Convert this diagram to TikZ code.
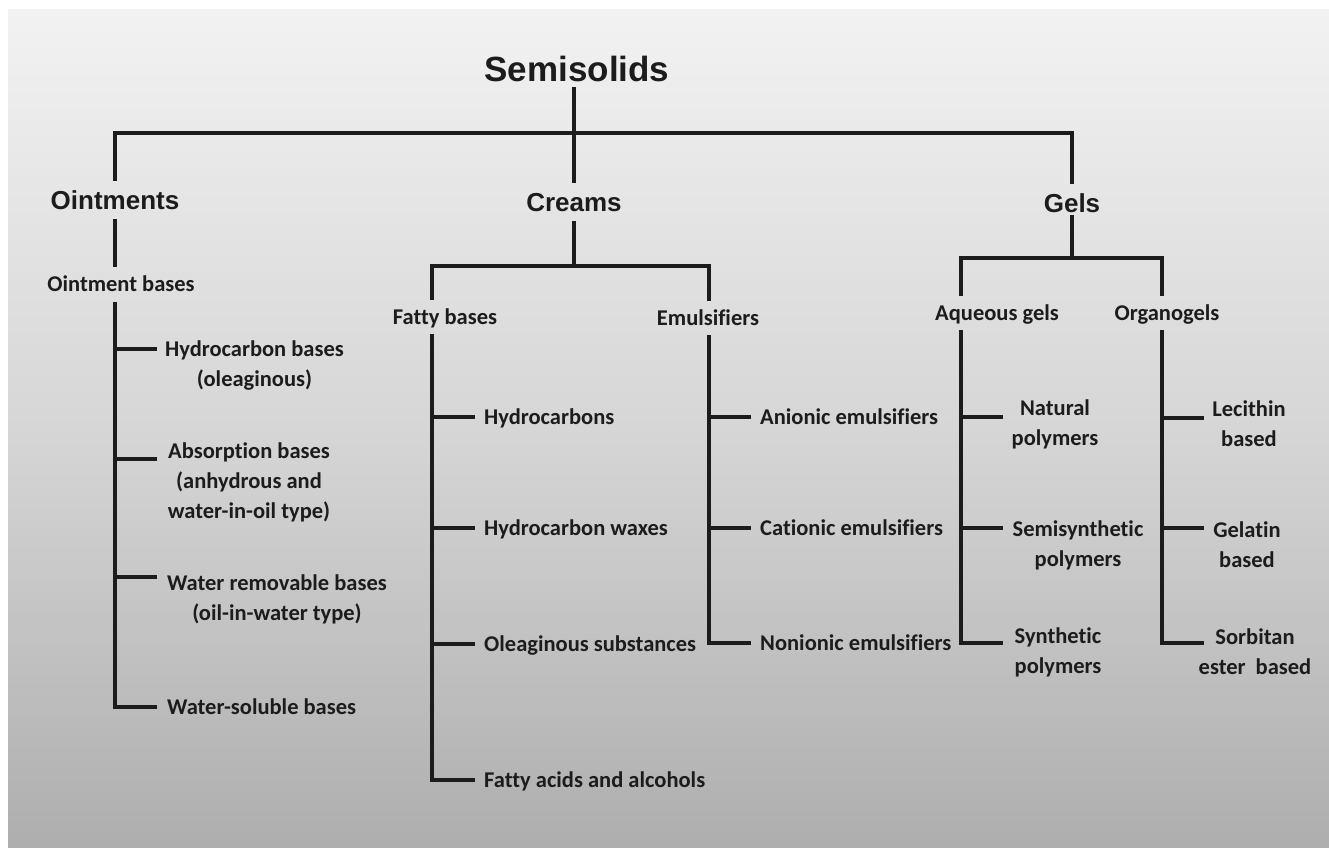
\documentclass[tikz,border=0pt]{standalone}
\usepackage{fontspec}
\setmainfont{Liberation Sans}
\newfontfamily\calfont[Ligatures=NoCommon]{Carlito}
\definecolor{ink}{HTML}{1C1C1C}
\definecolor{bgtop}{HTML}{F2F2F2}
\definecolor{bgmid}{HTML}{D6D6D6}
\definecolor{bgbot}{HTML}{AEAEAE}
\begin{document}
\begin{tikzpicture}[x=1pt,y=-1pt,
  conn/.style={draw=ink,line width=3.5pt,line cap=rect},
  ttl/.style={text=ink,font=\bfseries\fontsize{35}{40}\selectfont,text height=25pt,text depth=0pt,inner xsep=0pt,inner ysep=7.5pt},
  hone/.style={text=ink,font=\bfseries\fontsize{26}{30}\selectfont,text height=18.6pt,text depth=0pt,inner xsep=0pt,inner ysep=11.7pt},
  htwo/.style={text=ink,font=\calfont\bfseries\fontsize{22.5}{30}\selectfont,text height=14.5pt,text depth=0pt,inner xsep=0pt,inner ysep=11.7pt},
  leaf/.style={text=ink,font=\calfont\bfseries\fontsize{22.5}{30}\selectfont,text height=14.5pt,text depth=0pt,inner sep=0pt,anchor=west},
  mleaf/.style={text=ink,font=\calfont\bfseries\fontsize{22.5}{30}\selectfont,align=center,inner sep=0pt}]
\useasboundingbox (0,0) rectangle (1329,847);
\fill[white] (0,0) rectangle (1329,847);
\shade[top color=bgtop,bottom color=bgbot,middle color=bgmid] (8,9) rectangle (1329,847);

% nodes
\node[ttl] (semi) at (577,69) {Semisolids};
\node[hone] (oint) at (115,200) {Ointments};
\node[hone] (crm) at (574,202) {Creams};
\node[hone] (gel) at (1072,203) {Gels};

\node[htwo] (ob) at (121,284.5) {Ointment bases};
\node[htwo] (fb) at (445,317) {Fatty bases};
\node[htwo] (em) at (708,318) {Emulsifiers};
\node[htwo] (aq) at (997,313) {Aqueous gels};
\node[htwo] (og) at (1167,313) {Organogels};

% ointment leaves
\node[mleaf] (hcb) at (254.5,366) {Hydrocarbon bases\\(oleaginous)};
\node[mleaf] (abs) at (249,482) {Absorption bases\\(anhydrous and\\water-in-oil type)};
\node[mleaf] (wrb) at (277,599) {Water removable bases\\(oil-in-water type)};
\node[leaf] (wsb) at (167,707) {Water-soluble bases};
% cream leaves
\node[leaf] (hyc) at (484,417) {Hydrocarbons};
\node[leaf] (hcw) at (484,528) {Hydrocarbon waxes};
\node[leaf] (ols) at (484,644) {Oleaginous substances};
\node[leaf] (faa) at (484,780) {Fatty acids and alcohols};
\node[leaf] (ane) at (760,417) {Anionic emulsifiers};
\node[leaf] (cae) at (760,528) {Cationic emulsifiers};
\node[leaf] (noe) at (760,643) {Nonionic emulsifiers};
% gel leaves
\node[mleaf] (nap) at (1055,424) {Natural\\polymers};
\node[mleaf] (ssp) at (1078,545) {Semisynthetic\\polymers};
\node[mleaf] (syp) at (1058,652) {Synthetic\\polymers};
\node[mleaf] (leb) at (1249,424) {Lecithin\\based};
\node[mleaf] (geb) at (1247,545) {Gelatin\\based};
\node[mleaf] (sob) at (1255,652) {Sorbitan\\ester~ based};

% junction coordinates
\coordinate (jtop) at (574,133);
\coordinate (cbl) at (432,266);
\coordinate (cbr) at (709,266);
\coordinate (gbl) at (961,258);
\coordinate (gbr) at (1162,258);
% tick ends
\coordinate (t1) at (155,349);
\coordinate (t2) at (155,459);
\coordinate (t3) at (155,577);
\coordinate (t4) at ([xshift=-12pt]wsb.west);
\coordinate (f1) at ([xshift=-11pt]hyc.west);
\coordinate (f2) at ([xshift=-11pt]hcw.west);
\coordinate (f3) at ([xshift=-11pt]ols.west);
\coordinate (f4) at ([xshift=-11pt]faa.west);
\coordinate (e1) at ([xshift=-11pt]ane.west);
\coordinate (e2) at ([xshift=-11pt]cae.west);
\coordinate (e3) at ([xshift=-11pt]noe.west);
\coordinate (a1) at (1001,417);
\coordinate (a2) at (1001,528);
\coordinate (a3) at (1001,643);
\coordinate (o1) at (1202,418);
\coordinate (o2) at (1202,528);
\coordinate (o3) at (1202,643);

% top level
\draw[conn] (jtop |- semi.south) -- (jtop |- crm.north);
\draw[conn] (oint.north) -- (oint.north |- jtop) -- (gel.north |- jtop) -- (gel.north);
% ointments
\draw[conn] (oint.south) -- (oint.south |- ob.north);
\draw[conn] (oint.south |- ob.south) -- (oint.south |- t4) -- (t4);
\draw[conn] (oint.south |- t1) -- (t1);
\draw[conn] (oint.south |- t2) -- (t2);
\draw[conn] (oint.south |- t3) -- (t3);
% creams
\draw[conn] (crm.south) -- (crm.south |- cbl);
\draw[conn] (cbl |- fb.north) -- (cbl) -- (cbr) -- (cbr |- em.north);
\draw[conn] (cbl |- fb.south) -- (cbl |- f4) -- (f4);
\draw[conn] (cbl |- f1) -- (f1);
\draw[conn] (cbl |- f2) -- (f2);
\draw[conn] (cbl |- f3) -- (f3);
\draw[conn] (cbr |- em.south) -- (cbr |- e3) -- (e3);
\draw[conn] (cbr |- e1) -- (e1);
\draw[conn] (cbr |- e2) -- (e2);
% gels
\draw[conn] ([yshift=7pt]gel.south) -- (gel.south |- gbl);
\draw[conn] (gbl |- aq.north) -- (gbl) -- (gbr) -- (gbr |- og.north);
\draw[conn] (gbl |- aq.south) -- (gbl |- a3) -- (a3);
\draw[conn] (gbl |- a1) -- (a1);
\draw[conn] (gbl |- a2) -- (a2);
\draw[conn] (gbr |- og.south) -- (gbr |- o3) -- (o3);
\draw[conn] (gbr |- o1) -- (o1);
\draw[conn] (gbr |- o2) -- (o2);
\end{tikzpicture}
\end{document}
